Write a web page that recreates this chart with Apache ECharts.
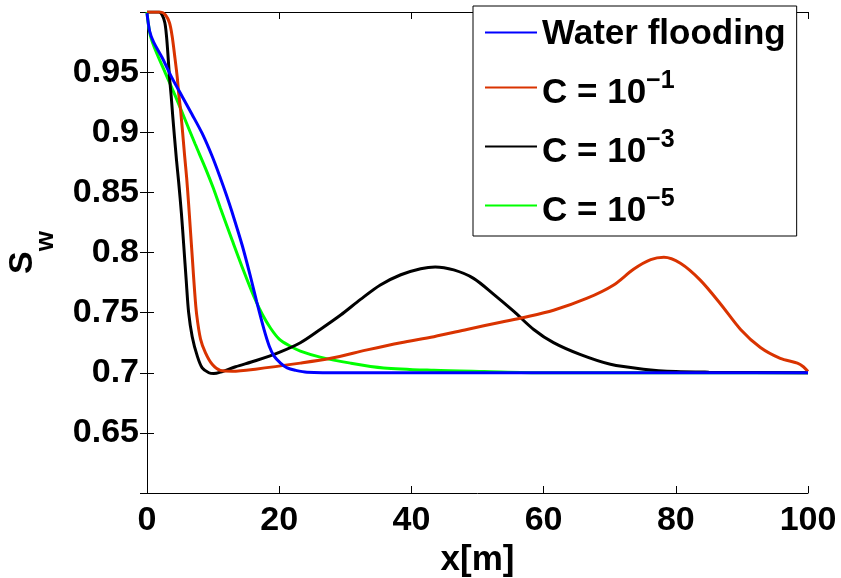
<!DOCTYPE html>
<html>
<head>
<meta charset="utf-8">
<script src="https://cdn.jsdelivr.net/npm/echarts@6/dist/echarts.min.js"></script>
<style>
html,body{margin:0;padding:0;background:#fff;}
#main{width:841px;height:578px;}
</style>
</head>
<body>
<div id="main"></div>
<script>
// ---- data ----
const seriesNames = ['Water flooding', 'C = 10^-1', 'C = 10^-3', 'C = 10^-5'];
const legendMain = ['Water flooding', 'C = 10', 'C = 10', 'C = 10'];
const legendSup = ['', '\u22121', '\u22123', '\u22125'];
const seriesColors = ['#0000FF', '#D93300', '#000000', '#00FF00'];

const xTickValues = [0, 20, 40, 60, 80, 100];
const yTickLabels = ['0.65', '0.7', '0.75', '0.8', '0.85', '0.9', '0.95'];

// Water flooding
const waterX = [0, 0.4, 1.0, 2.3, 3.8, 5.3, 6.8, 8.35, 9.86, 11.1, 12.0, 12.9, 14.4, 15.7, 16.6, 17.7, 18.5, 19.2, 20.2, 21.2, 22.5, 24.2, 30, 100];
const waterY = [0.999, 0.984, 0.975, 0.962, 0.945, 0.930, 0.915, 0.899, 0.880, 0.862, 0.848, 0.833, 0.806, 0.779, 0.759, 0.736, 0.722, 0.714, 0.708, 0.704, 0.702, 0.7005, 0.7, 0.7];

// C = 10^-1
const c1X = [0, 2.04, 2.8, 3.4, 3.8, 4.2, 4.57, 4.8, 5.07, 5.4, 5.7, 6.0, 6.3, 6.6, 6.9, 7.2, 7.5, 8.1, 8.85, 9.86, 11.1, 12.9, 16.4, 23.2, 27.8, 33.3, 38.4, 43.4, 48.4, 53.5, 57, 61.5, 66.6, 70.6, 73.6, 76.2, 78.2, 80.7, 83.7, 86.8, 89.8, 92.8, 95.8, 98.4, 99.3, 100];
const c1Y = [1.0, 1.0, 0.9975, 0.991, 0.980, 0.963, 0.946, 0.932, 0.919, 0.899, 0.880, 0.862, 0.840, 0.816, 0.792, 0.768, 0.749, 0.728, 0.7165, 0.707, 0.702, 0.7013, 0.703, 0.708, 0.712, 0.719, 0.725, 0.730, 0.736, 0.742, 0.746, 0.752, 0.762, 0.773, 0.786, 0.794, 0.796, 0.791, 0.777, 0.757, 0.736, 0.721, 0.712, 0.708, 0.705, 0.701];

// C = 10^-3
const c3X = [0, 1.8, 2.3, 2.7, 2.95, 3.15, 3.4, 3.66, 3.9, 4.16, 4.46, 4.8, 5.2, 5.57, 5.93, 6.3, 6.84, 7.6, 8.35, 9.35, 10.1, 11.1, 13.4, 16.4, 20, 23.2, 26.2, 29.3, 32.3, 35.3, 38.4, 41.4, 43.6, 46.4, 49.4, 52.5, 55.5, 58.5, 61.5, 65.6, 70.1, 75.1, 80, 85, 100];
const c3Y = [1.0, 1.0, 0.9975, 0.991, 0.980, 0.966, 0.946, 0.930, 0.913, 0.896, 0.877, 0.858, 0.833, 0.805, 0.777, 0.750, 0.730, 0.714, 0.704, 0.700, 0.6993, 0.7005, 0.705, 0.710, 0.717, 0.725, 0.736, 0.748, 0.761, 0.773, 0.7815, 0.7865, 0.788, 0.7855, 0.7785, 0.765, 0.751, 0.736, 0.725, 0.715, 0.707, 0.703, 0.701, 0.7005, 0.7];

// C = 10^-5
const c5X = [0, 0.18, 0.53, 1.3, 2.8, 4.3, 5.8, 7.3, 8.85, 10.0, 11.1, 12.9, 14.6, 16.2, 17.5, 18.7, 20.0, 21.7, 23.2, 26.2, 30.8, 35.8, 43.4, 51, 60, 100];
const c5Y = [1.0, 0.991, 0.980, 0.968, 0.949, 0.930, 0.910, 0.890, 0.870, 0.854, 0.837, 0.810, 0.785, 0.763, 0.748, 0.737, 0.728, 0.722, 0.718, 0.713, 0.708, 0.704, 0.702, 0.701, 0.7, 0.7];

const seriesX = [waterX, c1X, c3X, c5X];
const seriesY = [waterY, c1Y, c3Y, c5Y];

// ---- chart ----
const FONT = '"Liberation Sans", Arial, Helvetica, sans-serif';
const chart = echarts.init(document.getElementById('main'), null, {renderer: 'canvas'});

const pair = (xs, ys) => xs.map((x, i) => [x, ys[i]]);

const commonAxisLine = {show: true, lineStyle: {color: '#000', width: 1}};
const commonTick = {show: true, inside: true, length: 7, lineStyle: {color: '#000', width: 1}};

const option = {
  backgroundColor: '#fff',
  animation: false,
  grid: {left: 147, right: 33, top: 12, bottom: 85, containLabel: false, outerBoundsMode: 'none'},
  xAxis: [{
    type: 'value', min: 0, max: 100, interval: 20, position: 'bottom',
    axisLine: commonAxisLine, axisTick: commonTick, splitLine: {show: false},
    axisLabel: {
      show: true, margin: 11, color: '#000', fontSize: 34, fontWeight: 'bold', fontFamily: FONT, lineHeight: 34,
      formatter: v => xTickValues.indexOf(Math.round(v)) >= 0 ? String(Math.round(v)) : ''
    },
    name: 'x[m]', nameLocation: 'middle', nameGap: 46,
    nameTextStyle: {color: '#000', fontSize: 35, fontWeight: 'bold', fontFamily: FONT, lineHeight: 34}
  }, {
    type: 'value', min: 0, max: 100, interval: 20, position: 'top',
    axisLine: commonAxisLine, axisTick: commonTick, splitLine: {show: false},
    axisLabel: {show: false}
  }],
  yAxis: [{
    type: 'value', min: 0.6, max: 1.0, interval: 0.05, position: 'left',
    axisLine: commonAxisLine, axisTick: commonTick, splitLine: {show: false},
    axisLabel: {
      show: true, margin: 8, color: '#000', fontSize: 34, fontWeight: 'bold', fontFamily: FONT,
      showMinLabel: false, showMaxLabel: false,
      formatter: v => {
        const s = String(parseFloat(v.toFixed(2)));
        return yTickLabels.indexOf(s) >= 0 ? s : '';
      }
    },
    name: '{s|S}{w|w}', nameLocation: 'middle', nameGap: 88, nameRotate: 90,
    nameTextStyle: {
      color: '#000', fontWeight: 'bold', fontFamily: FONT,
      rich: {
        s: {fontSize: 34, lineHeight: 34, fontWeight: 'bold', fontFamily: FONT, color: '#000', padding: [0, 0, 22, 0]},
        w: {fontSize: 26, lineHeight: 26, fontWeight: 'bold', fontFamily: FONT, color: '#000', padding: [23, 0, 0, 0]}
      }
    }
  }, {
    type: 'value', min: 0.6, max: 1.0, interval: 0.05, position: 'right',
    axisLine: commonAxisLine, axisTick: commonTick, splitLine: {show: false},
    axisLabel: {show: false}
  }],
  legend: {
    orient: 'vertical', left: 473, top: 6,
    padding: [7, 11, 7, 12], itemGap: 12,
    itemWidth: 52, itemHeight: 2, icon: 'rect',
    backgroundColor: '#fff', borderColor: '#000', borderWidth: 1, borderRadius: 0,
    data: seriesNames,
    formatter: name => {
      const i = seriesNames.indexOf(name);
      if (!legendSup[i]) return '{n|' + legendMain[i] + '}';
      return '{b|' + legendMain[i] + '}{p|' + legendSup[i] + '}';
    },
    textStyle: {
      color: '#000', fontSize: 35, fontWeight: 'bold', fontFamily: FONT,
      rich: {
        n: {fontSize: 35, fontWeight: 'bold', fontFamily: FONT, color: '#000', lineHeight: 41, padding: [4, 0, 0, 0]},
        b: {fontSize: 35, fontWeight: 'bold', fontFamily: FONT, color: '#000', lineHeight: 33, padding: [12, 0, 0, 0]},
        p: {fontSize: 25, fontWeight: 'bold', fontFamily: FONT, color: '#000', lineHeight: 26, padding: [0, 0, 13, 0]}
      }
    },
    z: 10
  },
  series: seriesNames.map((name, i) => ({
    name: name,
    type: 'line',
    xAxisIndex: 0, yAxisIndex: 0,
    data: pair(seriesX[i], seriesY[i]),
    showSymbol: false, symbol: 'none',
    smooth: 0.3,
    color: seriesColors[i],
    lineStyle: {color: seriesColors[i], width: 3},
    z: 2 + (3 - i)
  }))
};
chart.setOption(option);
</script>
</body>
</html>
